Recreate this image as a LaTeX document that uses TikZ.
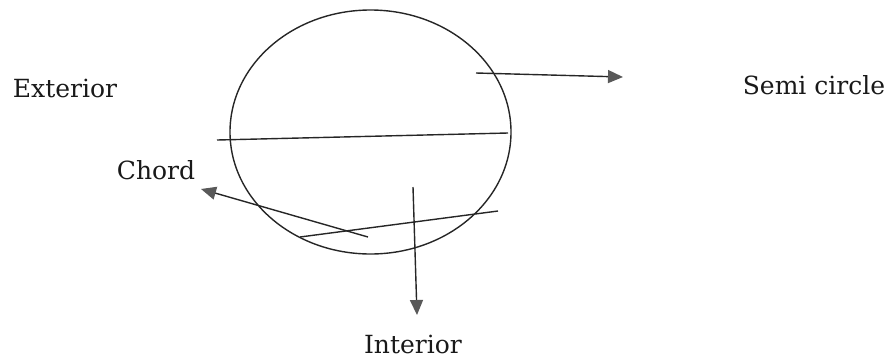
\documentclass[tikz,border=0pt]{standalone}
\usepackage{fontspec}
\setmainfont{DejaVu Serif}
\usepackage{tikz}
\usetikzlibrary{positioning,arrows.meta,calc}

\begin{document}
\begin{tikzpicture}[
  x=1pt, y=-1pt,
  >={Triangle[length=15pt, width=13pt, color=black!65, fill=black!65]},
  font=\fontsize{25}{30}\selectfont,
  thin line/.style={line width=1.4pt, black!85},
  pointer/.style={thin line, ->},
  lbl/.style={text=black!90, inner sep=0pt}
]
\useasboundingbox (0,0) rectangle (896,360);

% the circle and its lines
\draw[thin line] (370.5,132) ellipse [x radius=140.5, y radius=122];
\coordinate (dL) at (217,140);
\coordinate (dR) at (508,133);
\draw[thin line] (dL) -- (dR);
\coordinate (cL) at (300,237);
\coordinate (cR) at (498,211);
\draw[thin line] (cL) -- (cR);

% labels
\node[lbl] (ext) at (65,88) {Exterior};
\node[lbl] (chord) at (156,170) {Chord};
\node[lbl] (semi) at (814,85) {Semi circle};
\node[lbl] (int) at (413,344) {Interior};

% pointers
\coordinate (s0) at (476,73);
\coordinate (s1) at (623,77);
\draw[pointer] (s0) -- (s1);
\coordinate (c0) at (368,237);
\coordinate (c1) at (201,189);
\draw[pointer] (c0) -- (c1);
\coordinate (i0) at (413,187);
\coordinate (i1) at (417,315);
\draw[pointer] (i0) -- (i1);

\end{tikzpicture}
\end{document}
